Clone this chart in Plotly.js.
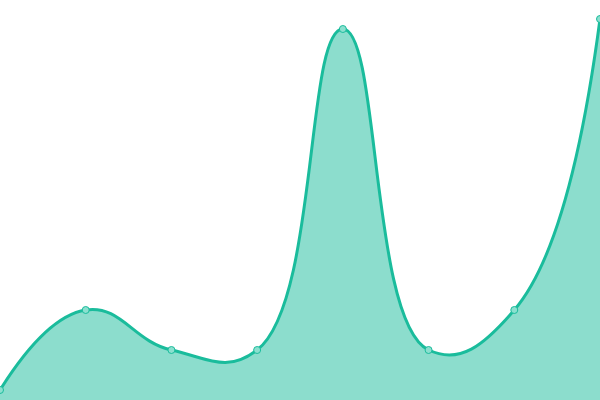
<!DOCTYPE html>
<html>
<head>
<meta charset="utf-8">
<script src="https://cdn.plot.ly/plotly-3.0.1.min.js"></script>
<style>html,body{margin:0;padding:0;}#chart{width:600px;height:400px;}</style>
</head>
<body>
<div id="chart"></div>
<script>
var xs = [0, 1, 2, 3, 4, 5, 6, 7];
var ys = [1, 9.0, 5.0, 5.0, 37.1, 5.0, 9.0, 38.1];

var trace = {
    x: xs,
    y: ys,
    type: 'scatter',
    mode: 'lines+markers',
    fill: 'tozeroy',
    fillcolor: 'rgba(26,188,156,0.5)',
    line: {color: '#1abc9c', width: 3, shape: 'spline', smoothing: 1.3},
    marker: {size: 7, color: '#8be0cf', line: {color: '#1abc9c', width: 1}},
    cliponaxis: false,
    hoverinfo: 'none'
};

var layout = {
    width: 600,
    height: 400,
    margin: {l: 0, r: 0, t: 0, b: 0},
    showlegend: false,
    paper_bgcolor: '#ffffff',
    plot_bgcolor: '#ffffff',
    xaxis: {range: [0, 7], visible: false, fixedrange: true},
    yaxis: {range: [0, 40], visible: false, fixedrange: true}
};

Plotly.newPlot('chart', [trace], layout, {displayModeBar: false, staticPlot: true});
</script>
</body>
</html>
